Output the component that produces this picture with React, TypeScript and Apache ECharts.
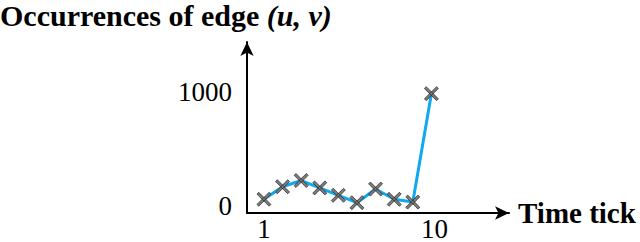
import React, { useEffect, useRef } from "react";
import * as echarts from "echarts";

const timeTicks = [1, 2, 3, 4, 5, 6, 7, 8, 9, 10];
const occurrences = [55, 165, 220, 155, 90, 25, 145, 55, 30, 985];
const xTickLabels = [1, 10];
const yTickLabels = [0, 1000];

const FONT = "Liberation Serif";
const CROSS =
  "path://M0,1.3 L1.3,0 L10,8.7 L8.7,10 Z M8.7,0 L10,1.3 L1.3,10 L0,8.7 Z";

export default function App() {
  const ref = useRef<HTMLDivElement>(null);
  useEffect(() => {
    if (!ref.current) return;
    const chart = echarts.init(ref.current, null, { renderer: "svg" });
    chart.setOption({
      animation: false,
      backgroundColor: "#ffffff",
      title: {
        text: "{b|Occurrences of edge }{i|(u, v)}",
        left: 0,
        top: 0,
        padding: 0,
        textStyle: {
          rich: {
            b: { fontFamily: FONT, fontWeight: "bold", fontSize: 30, color: "#000" },
            i: {
              fontFamily: FONT,
              fontWeight: "bold",
              fontStyle: "italic",
              fontSize: 30,
              color: "#000",
            },
          },
        },
      },
      grid: { left: 247, right: 131, top: 42, bottom: 29, containLabel: false },
      xAxis: {
        type: "value",
        min: 0.09,
        max: 14.17,
        name: "Time tick",
        nameLocation: "end",
        nameGap: 9,
        nameTextStyle: {
          fontFamily: FONT,
          fontWeight: "bold",
          fontSize: 29,
          color: "#000",
          verticalAlign: "middle",
        },
        axisLine: {
          show: true,
          onZero: false,
          symbol: ["none", "arrow"],
          symbolSize: [10, 14],
          lineStyle: { color: "#000", width: 2 },
        },
        axisTick: { show: false },
        splitLine: { show: false },
        axisLabel: {
          customValues: xTickLabels,
          margin: 2,
          fontFamily: FONT,
          fontSize: 27,
          color: "#000",
          formatter: (v: number) => (v === 10 ? "{t|" + v + "}" : "{o|" + v + "}"),
          rich: {
            t: { fontFamily: FONT, fontSize: 27, color: "#000", padding: [0, 0, 0, 6] },
            o: { fontFamily: FONT, fontSize: 27, color: "#000" },
          },
        },
      },
      yAxis: {
        type: "value",
        min: -66,
        max: 1440,
        axisLine: {
          show: true,
          onZero: false,
          symbol: ["none", "arrow"],
          symbolSize: [10, 14],
          lineStyle: { color: "#000", width: 2 },
        },
        axisTick: { show: false },
        splitLine: { show: false },
        axisLabel: {
          customValues: yTickLabels,
          margin: 15,
          fontFamily: FONT,
          fontSize: 27,
          color: "#000",
          formatter: (v: number) => String(v),
        },
      },
      series: [
        {
          type: "line",
          data: timeTicks.map((t, i) => [t, occurrences[i]]),
          lineStyle: { color: "#10a8ee", width: 3 },
          symbol: CROSS,
          symbolSize: 14,
          showSymbol: true,
          itemStyle: { color: "#7c7c7c", borderColor: "#222222", borderWidth: 0.7 },
          z: 3,
        },
      ],
    });
    return () => chart.dispose();
  }, []);
  return (
    <div
      ref={ref}
      style={{ position: "fixed", left: 0, top: 0, width: 640, height: 242 }}
    />
  );
}
